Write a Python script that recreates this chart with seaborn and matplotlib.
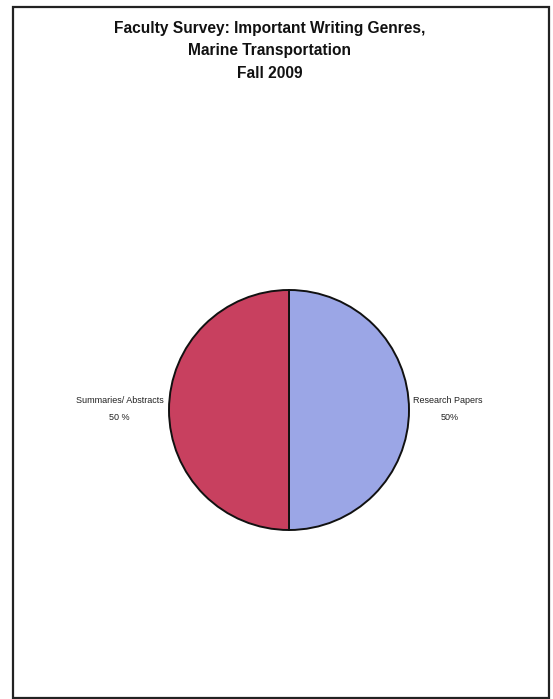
import matplotlib
matplotlib.use("Agg")
import matplotlib.pyplot as plt
import seaborn as sns
from matplotlib.patches import Rectangle

categories = ["Research Papers", "Summaries/ Abstracts"]
values = [50, 50]
pct_labels = ["50%", "50 %"]
colors = ["#9ba6e6", "#c8405f"]
title_lines = ["Faculty Survey: Important Writing Genres,",
               "Marine Transportation",
               "Fall 2009"]

sns.set_theme(style="white")
plt.rcParams["font.family"] = ["Liberation Sans", "DejaVu Sans"]

fig = plt.figure(figsize=(5.53, 6.99), dpi=100)
fig.patch.set_facecolor("white")

# frame around the page
fig.add_artist(Rectangle((13/553, 1-698/699), (549-13)/553, (698-7)/699,
                         transform=fig.transFigure, fill=False,
                         edgecolor="#222222", linewidth=1.6))

# titles
for line, yp in zip(title_lines, [28, 51, 73]):
    fig.text(270/553, 1-yp/699, line, ha="center", va="center",
             fontsize=11.2, fontweight="bold", color="#111111")

cx, cy, r = 289, 410, 120
ax = fig.add_axes([(cx - r)/553, 1-(cy + r)/699, 2*r/553, 2*r/699])
ax.pie(values, colors=colors, startangle=90, counterclock=False,
       wedgeprops=dict(edgecolor="#111111", linewidth=1.4), radius=1)
ax.set_xlim(-1, 1)
ax.set_ylim(-1, 1)
ax.set_aspect("auto")
ax.axis("off")

label_pos = [(1.325, 1.34), (-1.41, -1.41)]
for cat, pct, (lx, px) in zip(categories, pct_labels, label_pos):
    ax.text(lx, 0.08, cat, ha="center", va="center", fontsize=6.5, color="#222222", clip_on=False)
    ax.text(px, -0.06, pct, ha="center", va="center", fontsize=6.5, color="#222222", clip_on=False)

fig.savefig("out.png", dpi=100, facecolor="white")
